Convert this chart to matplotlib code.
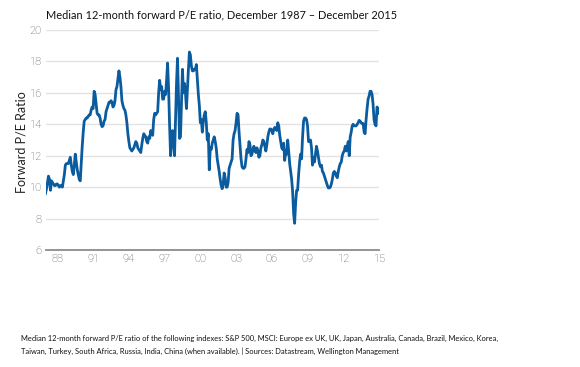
import matplotlib.pyplot as plt
import numpy as np

# median forward P/E, monthly from Dec 1987 to Dec 2015
pe_ratio = [
    9.6, 9.9, 10.3, 10.7, 10.5, 9.8, 10.4, 10.3, 10.2, 10.1, 10.1, 10.2,
    10.2, 10.1, 10.0, 10.1, 10.1, 10.0, 10.4, 10.8, 11.4, 11.5, 11.5, 11.5,
    11.7, 11.9, 11.4, 11.0, 10.8, 11.4, 12.1, 11.6, 11.1, 10.8, 10.5, 10.4,
    11.5, 12.6, 13.5, 14.2, 14.3, 14.4, 14.4, 14.5, 14.6, 14.6, 14.9, 15.1,
    15.0, 16.1, 15.9, 15.3, 14.7, 14.6, 14.6, 14.4, 14.0, 13.85, 13.9, 14.2,
    14.3, 14.8, 15.0, 15.2, 15.4, 15.4, 15.5, 15.4, 15.1, 15.2, 15.5, 16.2,
    16.4, 16.9, 17.4, 17.0, 16.4, 15.5, 15.2, 15.0, 14.9, 14.6, 14.1, 13.4,
    12.9, 12.5, 12.4, 12.3, 12.4, 12.5, 12.7, 12.9, 12.8, 12.5, 12.4, 12.3,
    12.2, 12.7, 13.1, 13.4, 13.3, 13.2, 12.9, 12.8, 13.2, 13.1, 13.6, 13.4,
    13.3, 14.3, 14.7, 14.6, 14.7, 14.8, 16.0, 16.8, 16.2, 16.4, 15.6, 15.6,
    16.1, 15.9, 16.8, 17.9, 16.3, 14.0, 12.0, 13.0, 13.6, 12.8, 12.0, 14.4,
    16.6, 18.2, 15.8, 13.1, 13.2, 15.4, 17.5, 16.0, 16.6, 16.0, 15.0, 16.3,
    17.5, 18.6, 18.4, 17.7, 17.4, 17.4, 17.5, 17.5, 17.8, 16.8, 15.9, 15.2,
    14.1, 14.3, 13.5, 14.2, 14.6, 14.8, 14.1, 13.0, 13.4, 11.1, 12.5, 12.4,
    12.8, 13.0, 13.2, 12.9, 12.5, 11.8, 11.4, 11.0, 10.5, 10.1, 9.9, 10.2,
    10.9, 10.6, 10.0, 10.0, 10.3, 11.2, 11.4, 11.6, 11.8, 13.0, 13.4, 13.6,
    14.1, 14.7, 14.6, 13.5, 12.6, 11.8, 11.3, 11.2, 11.2, 11.3, 11.8, 12.4,
    12.2, 12.9, 12.7, 12.0, 12.1, 12.4, 12.6, 12.3, 12.2, 12.5, 12.3, 11.9,
    12.0, 12.5, 12.7, 13.0, 12.9, 12.6, 12.3, 12.7, 13.2, 13.5, 13.7, 13.7,
    13.6, 13.4, 13.7, 13.8, 13.7, 13.6, 14.1, 13.9, 13.3, 12.9, 12.5, 12.4,
    12.8, 11.7, 12.3, 12.1, 13.0, 12.3, 11.5, 11.0, 10.5, 9.7, 8.3, 7.7,
    9.0, 9.8, 9.8, 10.8, 11.6, 12.1, 11.8, 13.2, 14.2, 14.4, 14.4, 14.3,
    13.9, 12.9, 12.9, 13.0, 12.5, 11.4, 11.9, 11.6, 12.1, 12.6, 12.3, 11.9,
    11.5, 11.3, 11.4, 11.0, 10.9, 10.7, 10.5, 10.3, 10.1, 9.95, 9.95, 10.0,
    10.2, 10.5, 10.9, 11.0, 10.9, 10.7, 10.6, 11.0, 11.3, 11.5, 11.6, 12.0,
    12.2, 12.3, 12.6, 12.3, 12.6, 12.9, 12.0, 13.2, 13.5, 13.9, 14.0, 13.9,
    13.9, 13.9, 14.0, 14.1, 14.25, 14.2, 14.1, 14.05, 14.05, 13.5, 13.4, 14.3,
    15.0, 15.6, 15.8, 16.1, 16.1, 15.9, 15.3, 14.3, 14.0, 13.9, 15.1, 15.0,
    14.7,
]
year_labels = ['88', '91', '94', '97', '00', '03', '06', '09', '12', '15']
y_ticks = [6, 8, 10, 12, 14, 16, 18, 20]

title = 'Median 12-month forward P/E ratio, December 1987 \u2013 December 2015'
footnote = ('Median 12-month forward P/E ratio of the following indexes: S&P 500, MSCI: '
            'Europe ex UK, UK, Japan, Australia, Canada, Brazil, Mexico, Korea,\n'
            'Taiwan, Turkey, South Africa, Russia, India, China (when available). '
            '| Sources: Datastream, Wellington Management')

months = np.arange(len(pe_ratio))
tick_pos = np.arange(12, len(pe_ratio), 36)

fig = plt.figure(figsize=(5.8, 3.67), dpi=100)
ax = fig.add_axes([45.5 / 580, 1 - 250 / 367, 333.5 / 580, 220 / 367])

ax.plot(months, pe_ratio, color='#0b5c9e', linewidth=2.0, solid_joinstyle='round')

ax.set_xlim(0, len(pe_ratio) - 1)
ax.set_ylim(6, 20)
ax.set_yticks(y_ticks)
ax.set_yticklabels([str(v) for v in y_ticks])
ax.set_xticks(tick_pos)
ax.set_xticklabels(year_labels)
ax.tick_params(length=0, labelsize=8, labelcolor='#555555', pad=3)
for lab in ax.get_xticklabels() + ax.get_yticklabels():
    lab.set_family('Roboto')
    lab.set_fontweight('light')

ax.grid(axis='y', color='#e3e3e3', linewidth=1)
ax.set_axisbelow(True)
for side in ['top', 'right', 'left']:
    ax.spines[side].set_visible(False)
ax.spines['bottom'].set_color('#8c8c8c')
ax.spines['bottom'].set_linewidth(1.3)

fig.text(22 / 580, 1 - 142 / 367, 'Forward P/E Ratio', rotation=90, fontsize=9,
         family='Lato', color='#222222', ha='center', va='center')
fig.text(46 / 580, 1 - 15 / 367, title, fontsize=7.9, family='Lato', color='#111111',
         va='center', ha='left')
fig.text(21 / 580, 1 - 345 / 367, footnote, fontsize=5.4, family='Lato', color='#111111',
         va='center', ha='left', linespacing=1.75)

fig.savefig('out.png', dpi=100)
